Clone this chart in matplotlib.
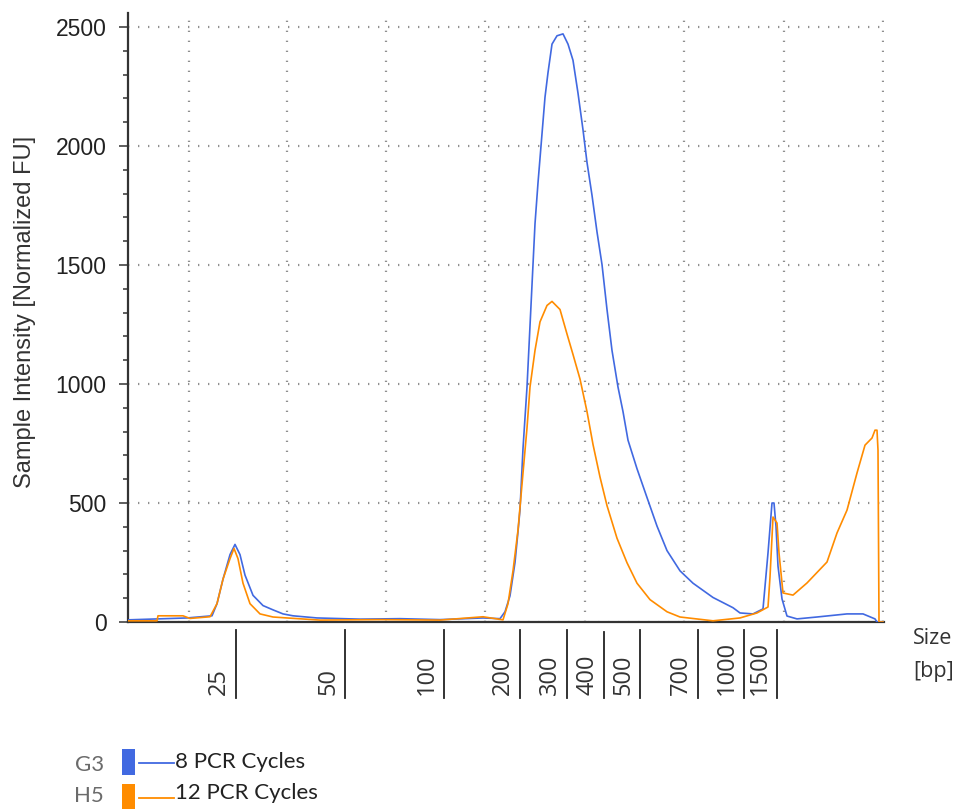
import matplotlib
matplotlib.use("Agg")
import matplotlib.pyplot as plt
import numpy as np
from matplotlib.lines import Line2D
from matplotlib.patches import Rectangle
from matplotlib.ticker import MultipleLocator

# migration position (arbitrary units along the run) and intensity [Normalized FU]
g3_pos = [0, 59, 84, 89, 95, 102, 107, 112, 117, 125, 135, 145, 155, 165, 189, 232,
          272, 312, 355, 372, 377, 382, 387, 390, 392, 395, 399, 402, 405, 407, 410,
          414, 417, 420, 424, 429, 435, 440, 445, 450, 455, 459, 464, 469, 474, 479,
          484, 490, 495, 500, 509, 519, 529, 539, 552, 565, 585, 605, 612, 625, 635,
          640, 644, 646, 648, 650, 654, 659, 669, 689, 719, 735, 747, 749, 755]
g3_fu = [9, 17, 26, 77, 180, 283, 326, 283, 197, 112, 69, 51, 34, 26, 17, 12,
         14, 10, 17, 14, 43, 110, 250, 380, 472, 729, 987, 1244, 1502, 1673, 1845,
         2051, 2205, 2308, 2428, 2463, 2471, 2428, 2360, 2222, 2068, 1931, 1793, 1639, 1502, 1313,
         1141, 987, 884, 764, 644, 523, 403, 300, 215, 163, 103, 60, 38, 34, 55,
         290, 500, 500, 402, 235, 97, 25, 13, 21, 34, 34, 13, 0, 0]

h5_pos = [0, 29, 30, 55, 62, 82, 89, 95, 102, 106, 110, 115, 122, 132, 145, 159,
          192, 252, 312, 355, 375, 380, 385, 390, 395, 399, 402, 407, 412, 419, 424,
          432, 439, 445, 452, 459, 465, 472, 479, 489, 499, 509, 522, 539, 552, 585,
          612, 629, 640, 642, 645, 649, 651, 655, 665, 679, 699, 709, 719, 729, 737,
          744, 747, 749, 750, 751, 755]
h5_fu = [5, 5, 26, 26, 15, 22, 77, 180, 266, 309, 266, 163, 77, 34, 21, 17,
         8, 10, 8, 22, 9, 77, 215, 386, 626, 815, 987, 1141, 1261, 1330, 1347,
         1313, 1210, 1124, 1021, 884, 746, 609, 489, 352, 249, 163, 94, 43, 21, 5,
         17, 38, 63, 189, 441, 416, 290, 122, 113, 164, 252, 374, 470, 626, 743,
         773, 806, 806, 722, 0, 0]

# ladder sizes [bp] and where they sit along the run
ladder_bp = ["25", "50", "100", "200", "300", "400", "500", "700", "1000", "1500"]
ladder_pos = [108, 217, 316, 392, 439, 476, 512, 570, 616, 649]

grid_pos = [61, 159, 258, 357, 457, 556, 656, 755]

samples = ["G3", "H5"]
sample_names = ["8 PCR Cycles", "12 PCR Cycles"]
colors = ["#4169E1", "#FF8C00"]

W, H = 966, 809


def fx(px):
    return px / W


def fy(py):
    return 1 - py / H


fig = plt.figure(figsize=(W / 100, H / 100), dpi=100)
ax = fig.add_axes([fx(128), fy(622), fx(884) - fx(128), fy(12.7) - fy(622)])

ax.plot(g3_pos, g3_fu, color=colors[0], linewidth=1.2, zorder=3)
ax.plot(h5_pos, h5_fu, color=colors[1], linewidth=1.2, zorder=3)

ax.set_xlim(0, 756)
ax.set_ylim(0, 2560)

ax.yaxis.set_major_locator(MultipleLocator(500))
ax.yaxis.set_minor_locator(MultipleLocator(100))
ax.set_xticks(grid_pos)
ax.tick_params(axis="x", length=0, labelbottom=False)
ax.tick_params(axis="y", which="major", length=6.5, width=1.1, pad=9,
               labelsize=16.5, labelcolor="#222222", color="#333333")
ax.tick_params(axis="y", which="minor", length=3.6, width=1.1, color="#333333")
for label in ax.get_yticklabels():
    label.set_fontfamily("Liberation Sans")

ax.grid(True, which="major", color="#8f8f8f", linestyle=(0, (0.6, 3.9)), linewidth=1.6)
ax.set_axisbelow(True)

for side in ("top", "right"):
    ax.spines[side].set_visible(False)
for side in ("left", "bottom"):
    ax.spines[side].set_linewidth(1.6)
    ax.spines[side].set_color("#333333")

fig.text(fx(25), fy(312), "Sample Intensity [Normalized FU]", rotation=90,
         ha="center", va="center", fontsize=17, family="Liberation Sans", color="#333333")

# size ladder markers under the axis
trans = ax.get_xaxis_transform()
axes_h = 622 - 12.7
for bp, pos in zip(ladder_bp, ladder_pos):
    top = 632 if bp == "400" else 630
    ax.plot([pos, pos], [(622 - top) / axes_h, (622 - 698) / axes_h], color="#222222",
            linewidth=1.3, transform=trans, clip_on=False)
    ax.annotate(bp, xy=(pos, (622 - 698) / axes_h), xycoords=trans,
                xytext=(-3.5, 2), textcoords="offset points", rotation=90,
                ha="right", va="bottom", fontsize=17, family="Open Sans", color="#333333")

fig.text(fx(913), fy(638), "Size", ha="left", va="center", fontsize=15.5,
         family="Open Sans", color="#333333")
fig.text(fx(913), fy(672), "[bp]", ha="left", va="center", fontsize=15.5,
         family="Open Sans", color="#333333")

# sample legend
rows = [(749, 775, 763, 762), (784, 812, 798, 793)]
for sample, name, color, (r_top, r_bot, line_y, text_y) in zip(samples, sample_names, colors, rows):
    fig.text(fx(104), fy(text_y + 3), sample, ha="right", va="center", fontsize=16,
             family="Lato", color="#6b6b6b")
    fig.add_artist(Rectangle((fx(122), fy(r_bot)), fx(13), fy(r_top) - fy(r_bot),
                             transform=fig.transFigure, facecolor=color, edgecolor="none"))
    fig.add_artist(Line2D([fx(139), fx(174)], [fy(line_y), fy(line_y)],
                          transform=fig.transFigure, color=color, linewidth=1.3))
    fig.text(fx(175), fy(text_y), name, ha="left", va="center", fontsize=16,
             family="Lato", color="#222222")

fig.savefig("out.png", dpi=100)
